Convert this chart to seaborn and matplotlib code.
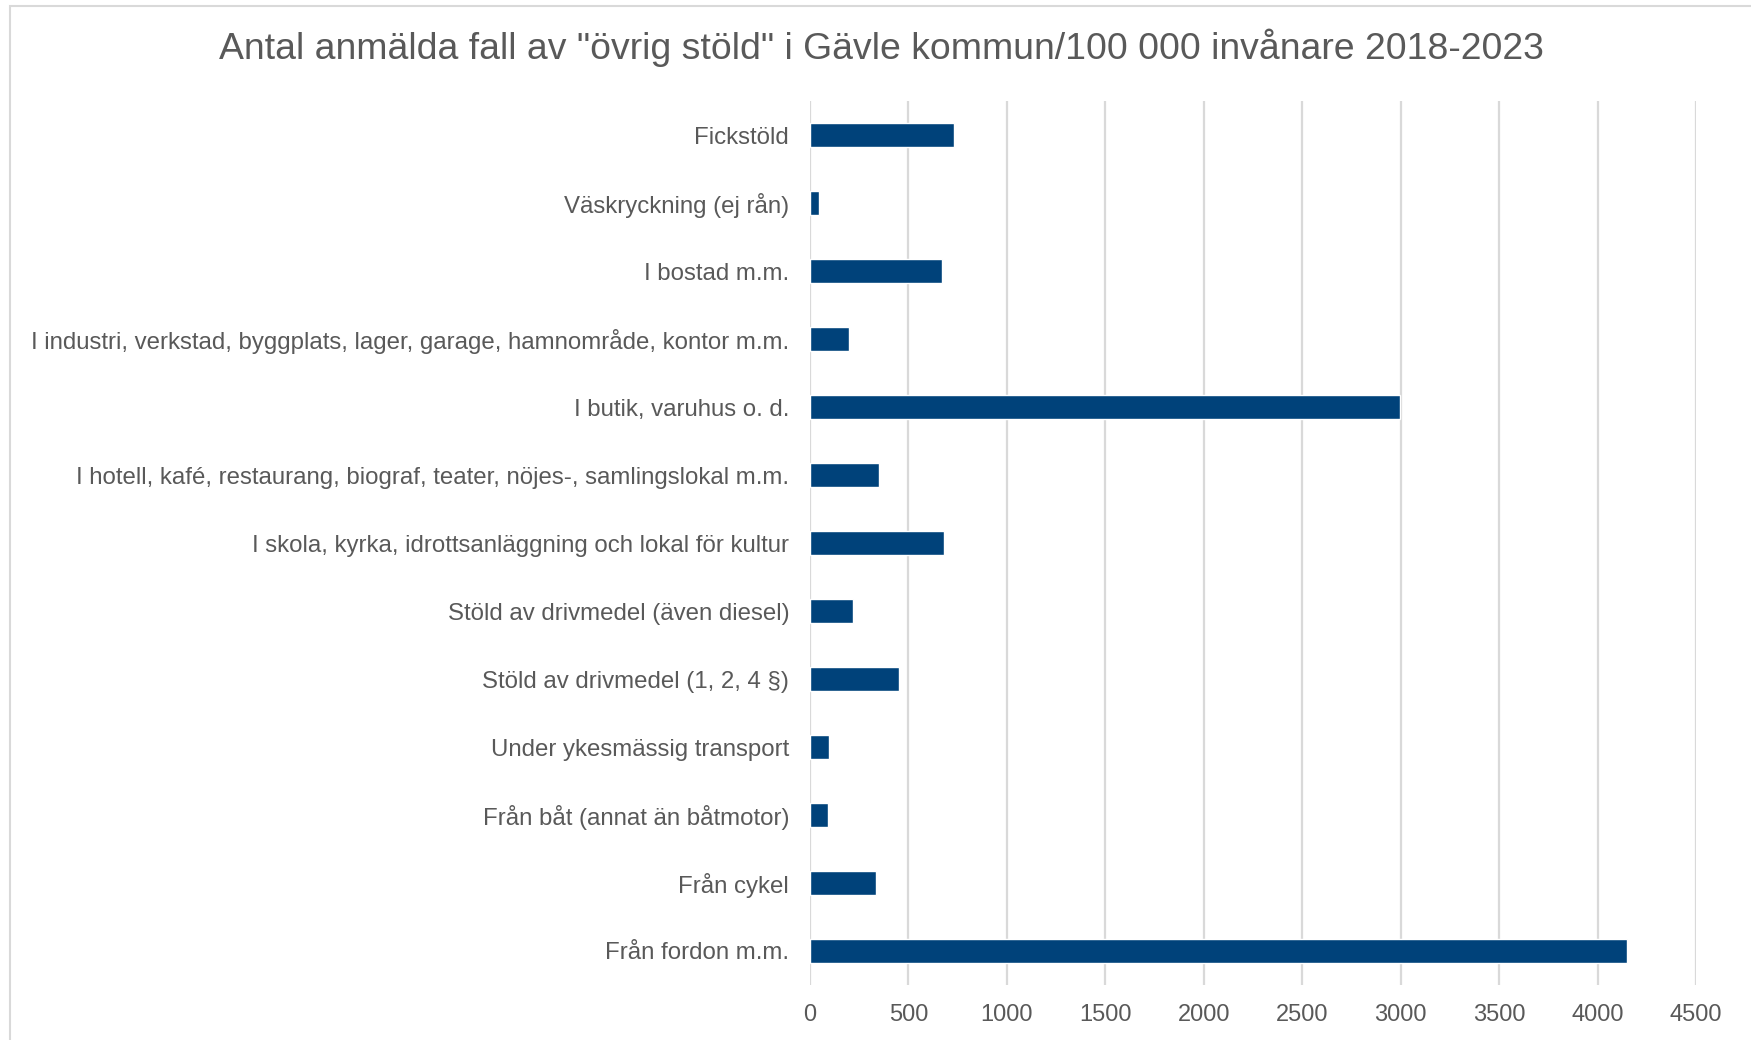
import matplotlib
matplotlib.use("Agg")
import matplotlib.pyplot as plt
import seaborn as sns
import pandas as pd
from matplotlib.patches import Rectangle

# Kategorier och värden (anmälda fall / 100 000 invånare)
kategorier = [
    "Fickstöld",
    "Väskryckning (ej rån)",
    "I bostad m.m.",
    "I industri, verkstad, byggplats, lager, garage, hamnområde, kontor m.m.",
    "I butik, varuhus o. d.",
    "I hotell, kafé, restaurang, biograf, teater, nöjes-, samlingslokal m.m.",
    "I skola, kyrka, idrottsanläggning och lokal för kultur",
    "Stöld av drivmedel (även diesel)",
    "Stöld av drivmedel (1, 2, 4 §)",
    "Under ykesmässig transport",
    "Från båt (annat än båtmotor)",
    "Från cykel",
    "Från fordon m.m.",
]
varden = [731, 47, 670, 200, 2998, 349, 681, 218, 452, 96, 91, 335, 4147]
x_ticks = [0, 500, 1000, 1500, 2000, 2500, 3000, 3500, 4000, 4500]

df = pd.DataFrame({"kategori": kategorier, "antal": varden})

sns.set_theme(style="white")
plt.rcParams["font.family"] = ["Liberation Sans", "DejaVu Sans"]

fig = plt.figure(figsize=(17.51, 10.40), dpi=100)
ax = fig.add_axes([0.4626, 0.0529, 0.506, 0.8497])

grid_color = "#d9d9d9"
text_color = "#595959"

sns.barplot(data=df, x="antal", y="kategori", orient="h", color="#00427a",
            width=0.35, saturation=1, ax=ax, zorder=3)

ax.set_xlim(0, 4500)
ax.set_ylim(12.5, -0.5)
ax.set_xticks(x_ticks)
ax.set_xticklabels([str(t) for t in x_ticks])
ax.xaxis.grid(True, color=grid_color, linewidth=1.6, zorder=0)
ax.set_axisbelow(True)
ax.set_xlabel("")
ax.set_ylabel("")
for s in ax.spines.values():
    s.set_visible(False)
ax.tick_params(axis="x", length=0, pad=14, labelsize=17, labelcolor=text_color)
ax.tick_params(axis="y", length=0, pad=15, labelsize=17.3, labelcolor=text_color)

fig.text(0.5034, 0.954, 'Antal anmälda fall av "övrig stöld" i Gävle kommun/100 000 invånare 2018-2023',
         ha="center", va="center", fontsize=26.9, color=text_color)

# ram runt diagrammet (höger/nederkant utanför bilden)
fig.patches.append(Rectangle((10 / 1751, -0.05), 1.1, 1 - 6 / 1040 + 0.05,
                             transform=fig.transFigure, fill=False,
                             edgecolor=grid_color, linewidth=1.5))

fig.savefig("out.png", dpi=100, facecolor="white")
